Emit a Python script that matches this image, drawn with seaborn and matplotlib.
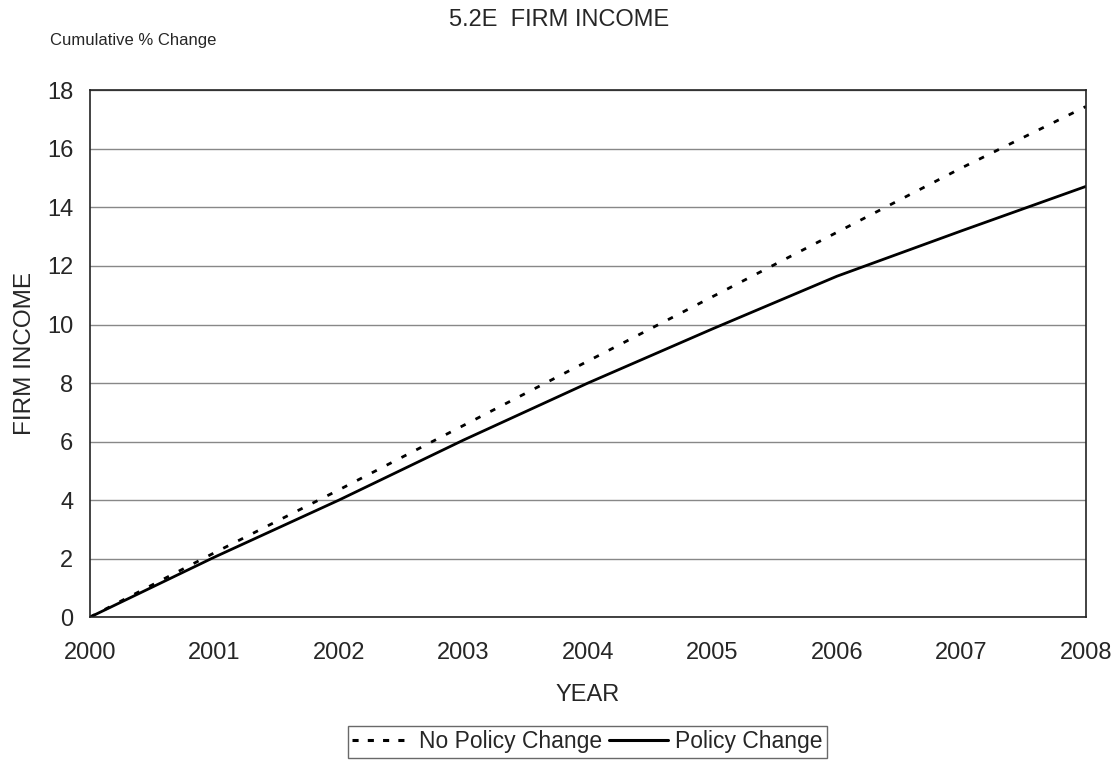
import pandas as pd
import matplotlib
matplotlib.use("Agg")
import matplotlib.pyplot as plt
from matplotlib.lines import Line2D
import seaborn as sns

# data
years = [2000, 2001, 2002, 2003, 2004, 2005, 2006, 2007, 2008]
no_policy = [0.0, 2.2, 4.35, 6.55, 8.75, 10.95, 13.15, 15.35, 17.45]
policy = [0.0, 2.05, 4.0, 6.05, 8.0, 9.85, 11.65, 13.2, 14.72]

df = pd.DataFrame({
    "YEAR": years * 2,
    "FIRM INCOME": no_policy + policy,
    "Series": ["No Policy Change"] * len(years) + ["Policy Change"] * len(years),
})

sns.set_style("white")
plt.rcParams["font.family"] = ["Liberation Sans", "DejaVu Sans"]

fig = plt.figure(figsize=(11.19, 7.6), dpi=100)
ax = fig.add_axes([0.0804, 0.188, 0.890, 0.693])

sns.lineplot(data=df, x="YEAR", y="FIRM INCOME", hue="Series", style="Series",
             palette=["black", "black"], dashes=[(2, 4), ""], linewidth=2,
             ax=ax, legend=False)

ax.set_xlim(2000, 2008)
ax.set_ylim(0, 18)
ax.set_xticks(years)
ax.set_yticks(range(0, 19, 2))
ax.yaxis.grid(True, color="#888888", linewidth=1)
ax.set_axisbelow(True)
for s in ax.spines.values():
    s.set_color("#222222")
    s.set_linewidth(1.2)
ax.tick_params(axis="both", direction="out", length=5, width=1, labelsize=17, color="#444444")
ax.tick_params(axis="x", pad=13)
ax.tick_params(axis="y", pad=7)
ax.set_xlabel("YEAR", fontsize=17, labelpad=14)
ax.set_ylabel("FIRM INCOME", fontsize=17.5, labelpad=8)

fig.text(0.5, 0.974, "5.2E  FIRM INCOME", ha="center", va="center", fontsize=17)
fig.text(0.045, 0.947, "Cumulative % Change", ha="left", va="center", fontsize=12)

handles = [Line2D([], [], color="black", linestyle=(0, (2, 3)), linewidth=2.2),
           Line2D([], [], color="black", linewidth=2.2)]
leg = fig.legend(handles, ["No Policy Change", "Policy Change"], loc="center",
                 bbox_to_anchor=(0.525, 0.024), ncol=2, fontsize=16.5, frameon=True,
                 fancybox=False, edgecolor="#444444", handlelength=2.6,
                 columnspacing=0.3, handletextpad=0.3, borderpad=0.2)
leg.get_frame().set_linewidth(1)

fig.savefig("out.png", dpi=100)
